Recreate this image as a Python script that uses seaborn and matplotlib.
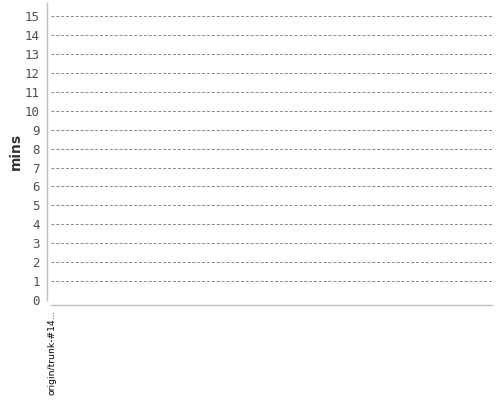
import matplotlib
matplotlib.use("Agg")
import matplotlib.pyplot as plt
import seaborn as sns
import pandas as pd

builds = ["origin/trunk-#14..."]
minutes = [0]
yticks = list(range(0, 16))

sns.set_theme(style="white")
plt.rcParams['font.family'] = ['DejaVu Sans']

df = pd.DataFrame({"build": builds, "mins": minutes})

fig = plt.figure(figsize=(5, 4), dpi=100)
ax = fig.add_axes([51/500, 1-300/400, (492-51)/500, (300-3)/400])
sns.barplot(data=df, x="build", y="mins", ax=ax, color="#4572A7", width=0.3)

ax.set_ylim(0, 15.7)
ax.set_xlim(-0.018, 8)
ax.set_yticks(yticks)
ax.set_xticks([0])
ax.set_xlabel("")
ax.set_ylabel("mins", fontsize=10, color="#333333", fontweight="bold", labelpad=1.5)

for t in yticks[1:]:
    ax.axhline(t, color="#888888", linewidth=0.7, linestyle=(0, (3, 2)), zorder=0)

for s in ["top", "right"]:
    ax.spines[s].set_visible(False)
ax.spines["left"].set_position(("outward", 3))
ax.spines["bottom"].set_position(("outward", 3.6))
ax.spines["left"].set_color("#c0c0c0")
ax.spines["bottom"].set_color("#c0c0c0")
ax.spines["left"].set_linewidth(1)
ax.spines["bottom"].set_linewidth(1)
ax.tick_params(axis="y", length=0, pad=5, labelsize=9, labelcolor="#505050")
ax.tick_params(axis="x", length=0, pad=3, labelsize=6.6, labelcolor="black", labelrotation=90)
for lab in ax.get_yticklabels():
    lab.set_family("DejaVu Sans Mono")
for lab in ax.get_xticklabels():
    lab.set_verticalalignment("top")
    lab.set_horizontalalignment("center")

fig.savefig("out.png", dpi=100)
